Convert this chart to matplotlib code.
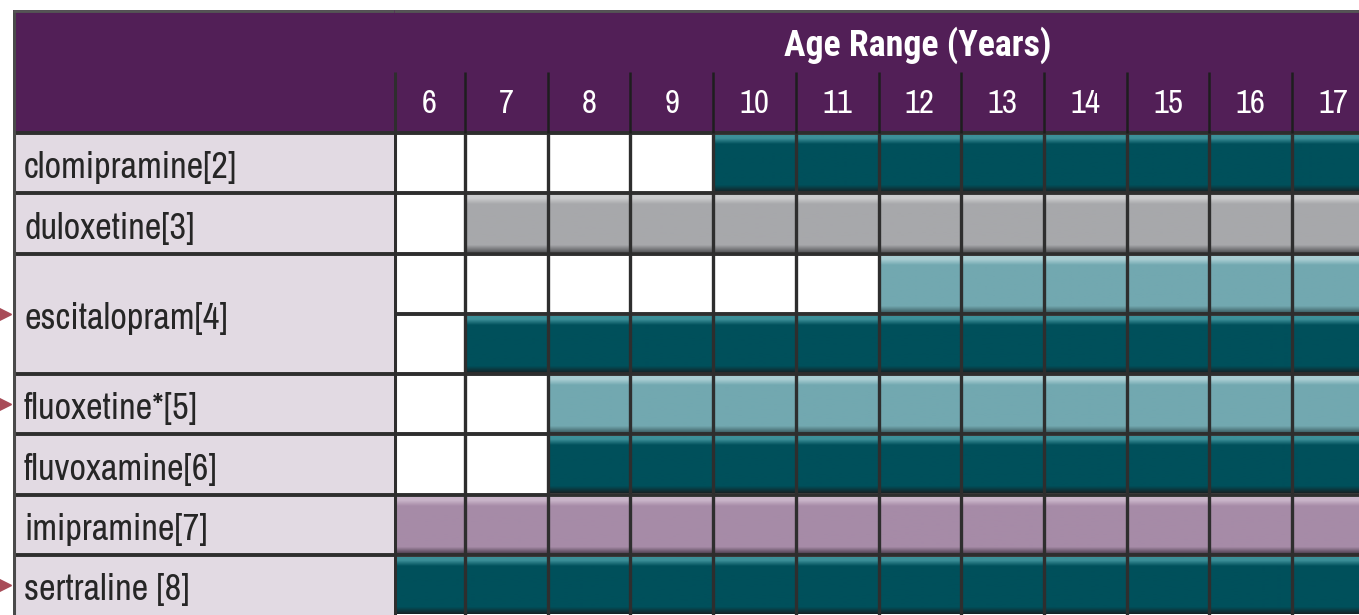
import matplotlib
matplotlib.use("Agg")
import matplotlib.pyplot as plt
import numpy as np
from matplotlib.colors import to_rgb
from matplotlib.patches import Rectangle
from matplotlib import font_manager

# ---------------- data ----------------
title = "Age Range (Years)"
ages = list(range(6, 18))
drug_labels = ["clomipramine[2]", "duloxetine[3]", "escitalopram[4]", "fluoxetine*[5]",
               "fluvoxamine[6]", "imipramine[7]", "sertraline [8]"]
drug_subrows = [1, 1, 2, 1, 1, 1, 1]          # number of bar lines per drug
bar_start_age = [10, 7, 12, 7, 8, 8, 6, 6]     # first age covered by each bar line
bar_kind = ["dark", "gray", "light", "dark", "light", "dark", "mauve", "dark"]
marked_drugs = ["escitalopram[4]", "fluoxetine*[5]", "sertraline [8]"]

# ---------------- style ----------------
names = {f.name for f in font_manager.fontManager.ttflist}
FONT = ["Archivo Narrow", "Roboto Condensed", "Liberation Sans", "DejaVu Sans"]
FONT = [f for f in FONT if f in names] or ["DejaVu Sans"]
TITLE_FONT = ["Roboto Condensed", "Archivo Narrow", "Liberation Sans", "DejaVu Sans"]
TITLE_FONT = [f for f in TITLE_FONT if f in names] or ["DejaVu Sans"]
plt.rcParams["font.family"] = FONT

PURPLE = "#521F57"
LABEL_BG = "#E2DAE3"
LINE = "#2E2E2E"
ARROW = "#A84B57"
TEXT = "#262626"
KIND_COLORS = {
    "dark": ("#3C8F98", "#00505B", "#152327"),
    "light": ("#A9CED3", "#72A8B0", "#3D5F64"),
    "gray": ("#CACBCD", "#A7A8AB", "#5E5F62"),
    "mauve": ("#C9B4C9", "#A68BA7", "#4E3F50"),
}

W, H = 1359, 615
fig = plt.figure(figsize=(W / 100, H / 100), dpi=100)
fig.patch.set_facecolor("white")
renderer = fig.canvas.get_renderer()


def px_axes(x0, y0, x1, y1):
    return fig.add_axes([x0 / W, 1 - y1 / H, (x1 - x0) / W, (y1 - y0) / H])


def fit_size(txt, target_px, weight="normal", family=None):
    t = fig.text(0, 0, txt, fontsize=20, fontweight=weight, family=family or FONT)
    w = t.get_window_extent(renderer).width
    t.remove()
    return 20 * target_px / w


BODY_TOP = 133
TOP, BOTTOM = 10, 615
n_sub = sum(drug_subrows)
ROW_PX = (BOTTOM - BODY_TOP) / n_sub
ymin = (TOP - BODY_TOP) / ROW_PX
ymax = n_sub
COL_PX = 82.7
GRID_X0, GRID_X1 = 394, 1359
xlo = 6.5 - (465 - GRID_X0) / COL_PX
xhi = xlo + (GRID_X1 - GRID_X0) / COL_PX

LABEL_FS = fit_size("clomipramine[2]", 213)
NUM_FS = fit_size("10", 30)
TITLE_FS = fit_size(title, 267, "bold", TITLE_FONT)

ax_lab = px_axes(13, TOP, GRID_X0, BOTTOM)
ax = px_axes(GRID_X0, TOP, GRID_X1, BOTTOM)
for a in (ax_lab, ax):
    a.set_axis_off()


def gradient(kind, n=60):
    top, base, bot = (np.array(to_rgb(c)) for c in KIND_COLORS[kind])
    img = np.zeros((n, 1, 3))
    for i in range(n):
        if i < 3:
            c = top
        elif i < 9:
            t = (i - 3) / 6
            c = top * (1 - t) + base * t
        elif i < n - 8:
            c = base
        else:
            t = (i - (n - 8)) / 7
            c = base * (1 - t) + bot * t
        img[i, 0] = c
    return img


# header
ax.add_patch(Rectangle((xlo, ymin), xhi - xlo, -ymin, color=PURPLE, zorder=1))
ax_lab.add_patch(Rectangle((0, ymin), 1, -ymin, color=PURPLE, zorder=1))

# label cells
row0 = 0
for name, k in zip(drug_labels, drug_subrows):
    ax_lab.add_patch(Rectangle((0, row0), 1, k, color=LABEL_BG, zorder=1))
    ax_lab.text(11 / 381, row0 + k / 2 + 0.08, name, ha="left", va="center",
                fontsize=LABEL_FS, color=TEXT, zorder=5)
    if name in marked_drugs:
        ax_lab.plot([-9 / 381], [row0 + k / 2], marker=">", markersize=10,
                    color=ARROW, clip_on=False, zorder=6)
    row0 += k

# grid cells & bars
for i, (start, kind) in enumerate(zip(bar_start_age, bar_kind)):
    ax.add_patch(Rectangle((xlo, i), xhi - xlo, 1, color="white", zorder=1))
    ax.imshow(gradient(kind), extent=(start - 0.5, ages[-1] + 0.5, i + 0.98, i + 0.04),
              aspect="auto", interpolation="bilinear", zorder=2)

# lines
vlines = [a + 0.5 for a in ages[:-1]]
ax.vlines(vlines, 0, ymax, colors=LINE, lw=2.4, zorder=4)
ax.vlines(vlines, -1.02, 0, colors="#1E1E1E", lw=1.8, zorder=4)
ax.vlines([xlo + 0.012], -1.02, ymax, colors=LINE, lw=2.2, zorder=4)
ax.hlines(range(0, n_sub), xlo, xhi, colors=LINE, lw=2.8, zorder=3)
bounds = np.cumsum([0] + drug_subrows[:-1])
ax_lab.hlines(bounds, 0, 1, colors=LINE, lw=2.8, zorder=3)
ax_lab.vlines([0.003], ymin, ymax, colors="#4A4A4A", lw=2.2, zorder=4)
ax.hlines([ymin + 0.02], xlo, xhi, colors="#555555", lw=2, zorder=4)
ax_lab.hlines([ymin + 0.02], 0, 1, colors="#555555", lw=2, zorder=4)

# header text
for a in ages:
    left = max(a - 0.5, xlo)
    ax.text((left + a + 0.5) / 2, (104 - BODY_TOP) / ROW_PX, str(a), ha="center",
            va="center", color="white", fontsize=NUM_FS, zorder=5)
ax.text(xlo + (918 - GRID_X0) / COL_PX, (45 - BODY_TOP) / ROW_PX, title,
        ha="center", va="center", color="white", fontsize=TITLE_FS,
        fontweight="bold", family=TITLE_FONT, zorder=5)

ax.set_xlim(xlo, xhi)
ax.set_ylim(ymax, ymin)
ax_lab.set_xlim(0, 1)
ax_lab.set_ylim(ymax, ymin)

fig.savefig("out.png", dpi=100)
